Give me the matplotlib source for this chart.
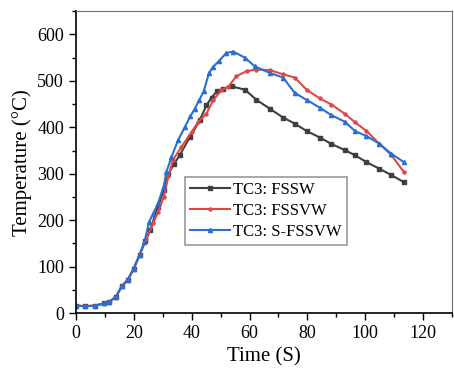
import matplotlib.pyplot as plt
from matplotlib.ticker import MultipleLocator

plt.rcParams['font.family'] = ['Liberation Serif', 'DejaVu Serif']

# shared heating part (all three curves overlap here)
t_start = [0, 3.3, 6.6, 9.8, 11.5, 13.8, 16, 18, 20, 22]
T_start = [16, 15, 16, 21, 24, 35, 59, 72, 96, 125]

t_fssw = t_start + [24, 25.6, 28.4, 30.4, 32, 33.8, 35.9, 39.4, 42.8, 45.1, 46.9, 48.8,
                    50.9, 53.8, 58.4, 62.4, 67, 71.6, 75.6, 79.7, 84.3, 88.3, 92.9,
                    96.4, 100.4, 104.8, 109, 113.3]
T_fssw = T_start + [155, 178, 229, 265, 300, 320, 340, 379, 415, 447, 464, 478,
                    483, 488, 481, 459, 440, 421, 408, 392, 378, 364, 351,
                    340, 325, 311, 297, 282]

t_fssvw = t_start + [24.4, 26.7, 28.4, 30.4, 32, 33.6, 36.5, 40, 42.2, 45.1, 47.4, 50.3,
                     52.6, 55.5, 59, 62.4, 67, 71.6, 75.6, 79.7, 84.3, 88.3, 92.9,
                     96.4, 100.4, 104.8, 109, 113.3]
T_fssvw = T_start + [160, 193, 218, 250, 295, 330, 358, 390, 411, 429, 458, 480,
                     487, 510, 521, 524, 523, 514, 507, 481, 462, 449, 429,
                     411, 392, 365, 340, 304]

t_sfssvw = t_start + [23.7, 25.3, 26.7, 28.4, 30.4, 31.3, 33, 35.3, 37.7, 39.6, 41.1,
                      42.6, 44.2, 46, 47.4, 49.5, 52, 54.3, 58.4, 61.8, 67, 71.6,
                      75.6, 79.7, 84.3, 88.3, 92.9, 96.4, 100.4, 104.8, 109, 113.3]
T_sfssvw = T_start + [153, 196, 214, 236, 274, 304, 335, 372, 401, 424, 440,
                      458, 478, 517, 530, 543, 560, 563, 550, 531, 517, 507,
                      474, 459, 442, 426, 412, 392, 381, 365, 343, 325]

labels = ['TC3: FSSW', 'TC3: FSSVW', 'TC3: S-FSSVW']

fig = plt.figure(figsize=(4.54, 3.71), dpi=100)
ax = fig.add_axes([0.167, 0.156, 0.829, 0.814])

ax.plot(t_fssw, T_fssw, color='#3f3f3f', marker='s', ms=2.5, lw=1.5, label=labels[0])
ax.plot(t_fssvw, T_fssvw, color='#e04848', marker='o', ms=2.2, lw=1.5, label=labels[1])
ax.plot(t_sfssvw, T_sfssvw, color='#2b6fd3', marker='^', ms=3, lw=1.5, label=labels[2])

ax.set_xlim(0, 130)
ax.set_ylim(0, 650)
ax.xaxis.set_major_locator(MultipleLocator(20))
ax.xaxis.set_minor_locator(MultipleLocator(10))
ax.yaxis.set_major_locator(MultipleLocator(100))
ax.yaxis.set_minor_locator(MultipleLocator(50))
ax.tick_params(which='major', direction='out', length=5, width=1, labelsize=13)
ax.tick_params(which='minor', direction='out', length=3, width=1)

for side in ['top', 'right']:
    ax.spines[side].set_color('#707070')
for side in ['left', 'bottom']:
    ax.spines[side].set_linewidth(1.2)

ax.set_xlabel('Time (S)', fontsize=15)
ax.set_ylabel('Temperature (°C)', fontsize=15)

leg = ax.legend(loc='upper left', bbox_to_anchor=(0.29, 0.452), fontsize=12,
                frameon=True, fancybox=False, edgecolor='#808080',
                handlelength=2.4, handletextpad=0.2, borderpad=0.3,
                labelspacing=0.3, borderaxespad=0)
leg.get_frame().set_linewidth(1.2)

fig.savefig('out.png', dpi=100)
